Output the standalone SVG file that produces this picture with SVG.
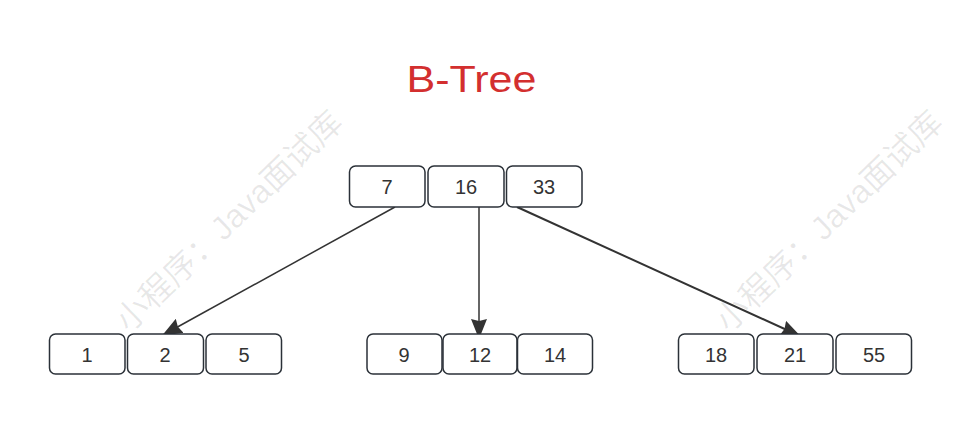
<svg xmlns="http://www.w3.org/2000/svg" width="962" height="424" viewBox="0 0 962 424">
<style>
.box rect{fill:#fff;stroke:#2b3138;stroke-width:1.5}
.box text{font-family:"Liberation Sans",Arial,sans-serif;font-size:20px;fill:#333;text-anchor:middle}
.wm{font-family:"Liberation Sans","Noto Sans CJK SC",sans-serif;font-size:33px;fill:#000;fill-opacity:0.09;text-anchor:middle}
.edge{stroke:#333;fill:none}
</style>
<defs>
<marker id="ah" viewBox="0 0 20 16" refX="19" refY="8" markerWidth="20" markerHeight="16" markerUnits="userSpaceOnUse" orient="auto">
<path d="M0,0 L20,8 L0,16 L2,8 Z" fill="#333"/>
</marker>
</defs>
<rect width="962" height="424" fill="#fff"/>
<text class="wm" x="230" y="232" transform="rotate(-44 230 222)">小程序：Java面试库</text>
<text class="wm" x="830" y="232" transform="rotate(-44 830 222)">小程序：Java面试库</text>
<text x="471.5" y="92" font-family="Liberation Sans,Arial,sans-serif" font-size="37" fill="#d32f2f" text-anchor="middle" textLength="130" lengthAdjust="spacingAndGlyphs">B-Tree</text>
<g id="edges">
<line class="edge" x1="395" y1="207" x2="163" y2="335" stroke-width="1.5" marker-end="url(#ah)"/>
<line class="edge" x1="479" y1="207" x2="479" y2="338" stroke-width="1.5" marker-end="url(#ah)"/>
<line class="edge" x1="517" y1="207" x2="800" y2="336" stroke-width="2" marker-end="url(#ah)"/>
</g>
<g id="root" class="box">
<rect x="349.5" y="166" width="75.5" height="41" rx="6"/><text x="387" y="194">7</text>
<rect x="428" y="166" width="76" height="41" rx="6"/><text x="466" y="194">16</text>
<rect x="506.5" y="166" width="75.5" height="41" rx="6"/><text x="544" y="194">33</text>
</g>
<g id="left" class="box">
<rect x="49.5" y="334" width="75.5" height="40" rx="6"/><text x="87" y="362">1</text>
<rect x="127.5" y="334" width="76" height="40" rx="6"/><text x="165" y="362">2</text>
<rect x="206" y="334" width="75.5" height="40" rx="6"/><text x="244" y="362">5</text>
</g>
<g id="middle" class="box">
<rect x="367" y="334" width="75" height="40" rx="6"/><text x="404" y="362">9</text>
<rect x="443" y="334" width="74" height="40" rx="6"/><text x="480" y="362">12</text>
<rect x="517.5" y="334" width="75" height="40" rx="6"/><text x="555" y="362">14</text>
</g>
<g id="right" class="box">
<rect x="678.5" y="334" width="75.5" height="40" rx="6"/><text x="716" y="362">18</text>
<rect x="757" y="334" width="76" height="40" rx="6"/><text x="795" y="362">21</text>
<rect x="836" y="334" width="75.5" height="40" rx="6"/><text x="874" y="362">55</text>
</g>
</svg>
